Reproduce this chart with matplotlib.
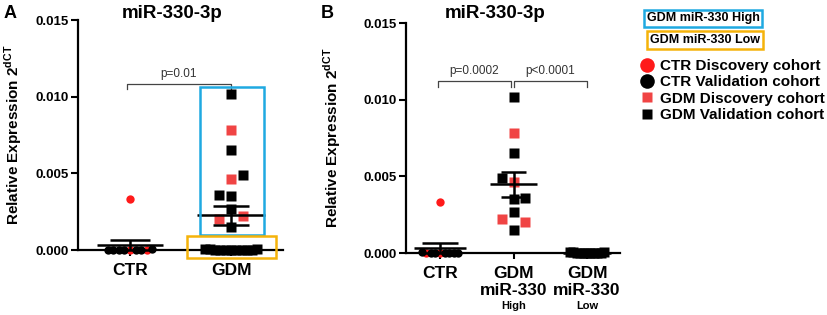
import numpy as np
import matplotlib
matplotlib.use("Agg")
from matplotlib import pyplot as plt
from matplotlib.lines import Line2D
from matplotlib.patches import Rectangle
from matplotlib.ticker import FormatStrFormatter

plt.rcParams["font.family"] = "Liberation Sans"
plt.rcParams["mathtext.fontset"] = "custom"
plt.rcParams["mathtext.bf"] = "Liberation Sans:bold"
plt.rcParams["mathtext.rm"] = "Liberation Sans:bold"

# data (relative expression 2^dCT)
ctr_discovery = [0.0033, 0.00003, 0.00001]
ctr_validation = [0.00002, 0.00004, 0.00001, 0.00003, 0.00002, 0.00001, 0.00002]
gdm_high_discovery = [0.0078, 0.0046, 0.0022, 0.0020]
gdm_high_validation = [0.0102, 0.0065, 0.0049, 0.0036, 0.0035, 0.0027, 0.0015]
gdm_low_validation = [0.00005, 0.00003, 0.00002, 0.00004, 0.00001, 0.00003,
                      0.00002, 0.00001, 0.00004, 0.00002, 0.00003]

labels_a = ["CTR", "GDM"]
labels_b = ["CTR", "GDM\nmiR-330", "GDM\nmiR-330"]
sub_labels_b = ["", "High", "Low"]
p_text_a = ["p=0.01"]
p_text_b = ["p=0.0002", "p<0.0001"]
legend_labels = ["CTR Discovery cohort", "CTR Validation cohort",
                 "GDM Discovery cohort", "GDM Validation cohort"]

RED_C = "#ff1a1a"
RED_S = "#f04444"
BLUE = "#1fa9e1"
ORANGE = "#f5b30a"
W, H = 827, 315


def swarm_slots(values, min_gap, first_side):
    # column index for every point, so close values do not overlap
    order = np.argsort(values, kind="stable")
    slots = np.zeros(len(values), dtype=int)
    placed = []
    side = first_side
    for i in order:
        v = values[i]
        tries = [0]
        for k in range(1, len(values) + 1):
            tries += [side * k, -side * k]
        for s in tries:
            if all(not (ps == s and abs(pv - v) < min_gap) for ps, pv in placed):
                break
        placed.append((s, v))
        slots[i] = s
        if s != 0:
            side = -int(np.sign(s))
    return slots


def draw_group(ax, pos, disc, val, marker, disc_color, step, half, first_side, ms):
    values = np.array(disc + val)
    slots = swarm_slots(values, 0.00075, first_side)
    if np.abs(slots).max() > 0:
        step = min(step, half / np.abs(slots).max())
    x = pos + slots * step
    nd = len(disc)
    ax.plot(x[:nd], values[:nd], ls="", marker=marker, color=disc_color, ms=ms,
            mec="none", zorder=3, clip_on=False)
    ax.plot(x[nd:], values[nd:], ls="", marker=marker, color="black", ms=ms,
            mec="none", zorder=3, clip_on=False)


def mean_sem(ax, pos, values, mw, cw):
    values = np.array(values)
    m = values.mean()
    s = values.std(ddof=1) / np.sqrt(len(values))
    ax.hlines(m, pos - mw, pos + mw, color="black", lw=1.8, zorder=4)
    ax.hlines([m - s, m + s], pos - cw, pos + cw, color="black", lw=1.8, zorder=4)
    ax.vlines(pos, m - s, m + s, color="black", lw=1.8, zorder=4)


def bracket(ax, x0, x1, y, drop, text):
    ax.plot([x0, x0, x1, x1], [y - drop, y, y, y - drop], color="#444444", lw=0.9)
    ax.text((x0 + x1) / 2, y + 0.00025, text, ha="center", va="bottom",
            fontsize=8.5, color="#333333", fontweight="normal")


def style_axes(ax, labels):
    ax.spines["top"].set_visible(False)
    ax.spines["right"].set_visible(False)
    ax.spines["bottom"].set_position(("data", 0))
    ax.spines["left"].set_bounds(0, 0.015)
    for sp in ("left", "bottom"):
        ax.spines[sp].set_linewidth(1.6)
    ax.set_ylim(-0.0012, 0.0152)
    ax.set_yticks([0, 0.005, 0.010, 0.015])
    ax.yaxis.set_major_formatter(FormatStrFormatter("%.3f"))
    ax.set_xticks(range(len(labels)))
    ax.set_xticklabels(labels, fontsize=12.5, fontweight="bold")
    ax.tick_params(axis="y", length=5, width=1.5, labelsize=9.5, pad=2)
    ax.tick_params(axis="x", length=4, width=1.5, pad=5)
    for t in ax.get_yticklabels():
        t.set_fontweight("bold")
    ax.set_ylabel(r"Relative Expression 2$^{\mathbf{dCT}}$", fontsize=11,
                  fontweight="bold")


fig = plt.figure(figsize=(W / 100, H / 100), dpi=100)

# panel A
ax_a = fig.add_axes([78 / W, 0.1479, 205 / W, 0.7983])
ax_a.set_xlim((78 - 130) / 101, (283 - 130) / 101)
style_axes(ax_a, labels_a)
ax_a.yaxis.set_label_coords(-0.262, 0.53)

draw_group(ax_a, 0, ctr_discovery, ctr_validation, "o", RED_C, 0.12, 0.22, -1, 6)
draw_group(ax_a, 1, gdm_high_discovery, gdm_high_validation, "s", RED_S, 0.12, 0.3, -1, 6.5)
draw_group(ax_a, 1, [], gdm_low_validation, "s", RED_S, 0.12, 0.26, 1, 6.5)
mean_sem(ax_a, 0, ctr_discovery + ctr_validation, 0.33, 0.2)
mean_sem(ax_a, 1, gdm_high_discovery + gdm_high_validation + gdm_low_validation, 0.34, 0.18)

high = gdm_high_discovery + gdm_high_validation
ax_a.add_patch(Rectangle((0.693, min(high) - 0.0005), 0.634,
                         max(high) + 0.0004 - (min(high) - 0.0005),
                         fill=False, ec=BLUE, lw=1.8, zorder=5, clip_on=False))
ax_a.add_patch(Rectangle((0.564, -0.00052), 0.882, 0.00143,
                         fill=False, ec=ORANGE, lw=1.8, zorder=5, clip_on=False))
bracket(ax_a, -0.03, 1.0, 0.01084, 0.00032, p_text_a[0])

# panel B
ax_b = fig.add_axes([406 / W, 0.1384, 214 / W, 0.7983])
ax_b.set_xlim((406 - 440) / 73.5, (620 - 440) / 73.5)
style_axes(ax_b, labels_b)
ax_b.yaxis.set_label_coords(-0.294, 0.53)
for i, sub in enumerate(sub_labels_b):
    ax_b.text(i, -0.137, sub, transform=ax_b.get_xaxis_transform(), ha="center",
              va="center", fontsize=8, fontweight="bold")

draw_group(ax_b, 0, ctr_discovery, ctr_validation, "o", RED_C, 0.16, 0.25, 1, 6)
draw_group(ax_b, 1, gdm_high_discovery, gdm_high_validation, "s", RED_S, 0.163, 0.3, 1, 6.5)
draw_group(ax_b, 2, [], gdm_low_validation, "s", RED_S, 0.16, 0.23, 1, 6.5)
mean_sem(ax_b, 0, ctr_discovery + ctr_validation, 0.36, 0.24)
mean_sem(ax_b, 1, high, 0.32, 0.17)
mean_sem(ax_b, 2, gdm_low_validation, 0.32, 0.17)
bracket(ax_b, -0.03, 0.97, 0.01123, 0.0004, p_text_b[0])
bracket(ax_b, 1.01, 2.0, 0.01123, 0.0004, p_text_b[1])

# titles and panel letters
fig.text(172 / W, 1 - 13 / H, "miR-330-3p", ha="center", va="center",
         fontsize=13.5, fontweight="bold")
fig.text(495 / W, 1 - 13 / H, "miR-330-3p", ha="center", va="center",
         fontsize=13.5, fontweight="bold")
fig.text(10 / W, 1 - 13 / H, "A", ha="center", va="center", fontsize=13, fontweight="bold")
fig.text(327 / W, 1 - 13 / H, "B", ha="center", va="center", fontsize=13, fontweight="bold")

# group boxes legend
fig.text(703 / W, 1 - 18.5 / H, "GDM miR-330 High", ha="center", va="center",
         fontsize=9, fontweight="bold",
         bbox=dict(boxstyle="square,pad=0.22", fc="white", ec=BLUE, lw=1.8))
fig.text(705 / W, 1 - 40 / H, "GDM miR-330 Low", ha="center", va="center",
         fontsize=9, fontweight="bold",
         bbox=dict(boxstyle="square,pad=0.22", fc="white", ec=ORANGE, lw=1.8))

handles = [
    Line2D([], [], ls="", marker="o", color=RED_C, ms=10.5, mec="none", label=legend_labels[0]),
    Line2D([], [], ls="", marker="o", color="black", ms=10.5, mec="none", label=legend_labels[1]),
    Line2D([], [], ls="", marker="s", color=RED_S, ms=7.5, mec="none", label=legend_labels[2]),
    Line2D([], [], ls="", marker="s", color="black", ms=7.5, mec="none", label=legend_labels[3]),
]
fig.legend(handles=handles, loc="upper left", bbox_to_anchor=(641 / W, 1 - 59 / H),
           frameon=False, prop={"weight": "bold", "size": 11}, handlelength=0.8,
           handletextpad=0.45, labelspacing=0.15, borderpad=0, borderaxespad=0)

fig.savefig("out.png", dpi=100)
